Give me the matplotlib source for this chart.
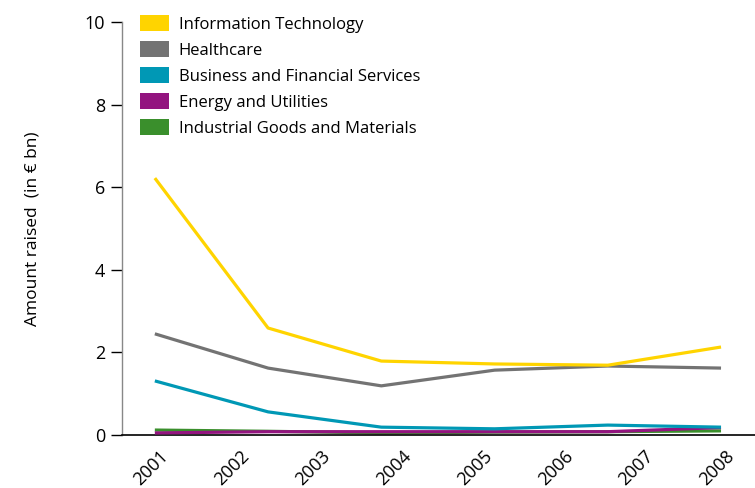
import numpy as np
import matplotlib.pyplot as plt
from matplotlib.patches import Patch

plt.rcParams['font.family'] = ['Open Sans', 'DejaVu Sans']

years = ['2001', '2002', '2003', '2004', '2005', '2006', '2007', '2008']
sectors = ['Information Technology', 'Healthcare', 'Business and Financial Services',
           'Energy and Utilities', 'Industrial Goods and Materials']
colors = ['#FFD400', '#737373', '#0098B5', '#93147F', '#3A8F2C']

it = [6.22, 2.59, 1.79, 1.72, 1.69, 2.13]
healthcare = [2.45, 1.62, 1.19, 1.57, 1.67, 1.62]
business = [1.31, 0.56, 0.19, 0.15, 0.24, 0.19]
energy = [0.05, 0.08, 0.08, 0.08, 0.08, 0.18]
industrial = [0.12, 0.09, 0.05, 0.07, 0.08, 0.10]

series = [it, healthcare, business, energy, industrial]

fig = plt.figure(figsize=(7.55, 4.88), dpi=100)
ax = fig.add_axes([0.1616, 0.1086, 0.8384, 0.8464])

x = np.arange(len(it))
for vals, col, zo in zip(series[::-1], colors[::-1], [2, 3, 4, 5, 6]):
    ax.plot(x, vals, color=col, lw=2.3, zorder=zo, solid_capstyle='butt')

ax.set_xlim(-0.29, 5.30)
ax.set_ylim(0, 10)
ax.set_yticks([0, 2, 4, 6, 8, 10])
ax.set_xticks(np.linspace(0, len(it) - 1, len(years)) + 0.04)
ax.set_xticklabels(years, rotation=45, ha='right', rotation_mode='anchor', fontsize=13)
ax.tick_params(axis='x', length=0, pad=9)
ax.tick_params(axis='y', direction='out', length=8, width=1, labelsize=13, pad=4)
ax.set_ylabel('Amount raised  (in € bn)', fontsize=12.5, labelpad=32)

for s in ['top', 'right']:
    ax.spines[s].set_visible(False)
ax.spines['left'].set_color('#888888')
ax.spines['left'].set_linewidth(1)
ax.spines['bottom'].set_color('black')
ax.spines['bottom'].set_linewidth(1.2)

handles = [Patch(facecolor=c, edgecolor='none') for c in colors]
ax.legend(handles, sectors, loc='upper left', bbox_to_anchor=(0.005, 1.052),
          frameon=False, fontsize=12, handlelength=1.7, handleheight=1.1,
          labelspacing=0.5, handletextpad=0.6)

fig.savefig('out.png', dpi=100)
